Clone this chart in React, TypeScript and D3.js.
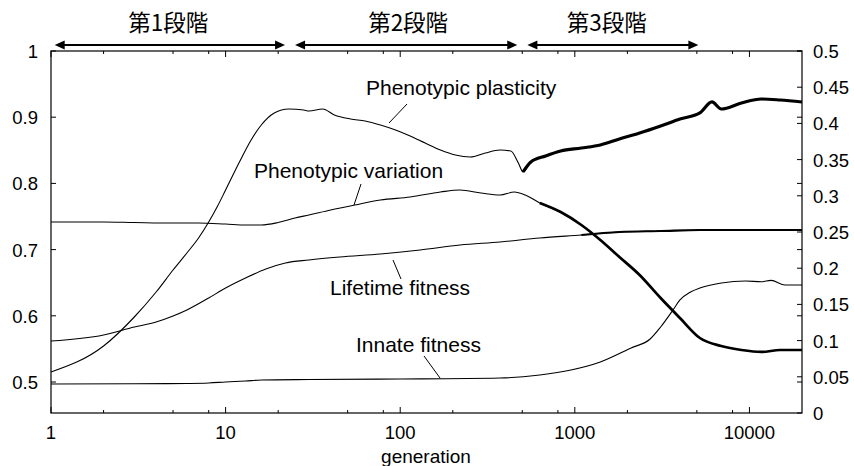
import React from "react";
import * as d3 from "d3";

// ---------- data ----------
const xMajorTicks = [1, 10, 100, 1000, 10000];
const xMinorTicks = [2, 5, 8, 20, 50, 80, 200, 500, 800, 2000, 5000, 8000];
const leftTicks = [0.5, 0.6, 0.7, 0.8, 0.9, 1];
const rightTicks = [0, 0.05, 0.1, 0.15, 0.2, 0.25, 0.3, 0.35, 0.4, 0.45, 0.5];

const stageNames = ["第1段階", "第2段階", "第3段階"];
const stageFrom = [1.05, 25, 535];
const stageTo = [21.9, 468, 5100];
const stageLabelAt = [4.7, 111, 1525];

// Phenotypic plasticity (right axis)
const plasticityGen = [1, 2, 3, 4, 5, 6, 7, 8, 9, 10, 12, 14, 16, 19, 23, 28, 30, 36, 42, 52, 63, 77, 94, 114, 139, 170, 207, 252, 307, 373, 430, 475, 505, 560, 680, 830, 1090, 1400, 1800, 2350, 3100, 4000, 5200, 6100, 6900, 9000, 11700, 15000, 20000];
const plasticityVal = [0.0566, 0.0925, 0.1326, 0.1671, 0.1975, 0.221, 0.2417, 0.2638, 0.2859, 0.308, 0.3467, 0.3771, 0.3978, 0.4144, 0.4199, 0.4185, 0.4171, 0.4199, 0.4116, 0.4061, 0.4033, 0.3978, 0.3909, 0.3826, 0.3729, 0.3633, 0.3564, 0.3536, 0.3591, 0.3633, 0.3619, 0.3453, 0.3329, 0.3467, 0.355, 0.3619, 0.366, 0.3702, 0.3785, 0.3867, 0.3964, 0.4061, 0.4144, 0.4296, 0.4199, 0.4282, 0.4337, 0.4323, 0.4296];

// Phenotypic variation (right axis)
const variationGen = [1, 2, 3, 5, 7, 10, 13, 16, 20, 25, 30, 40, 55, 77, 114, 170, 220, 290, 373, 450, 520, 630, 830, 1090, 1400, 1800, 2350, 3100, 4000, 5200, 6900, 9000, 11700, 15000, 20000];
const variationVal = [0.2638, 0.2638, 0.2631, 0.2624, 0.2624, 0.261, 0.2597, 0.2597, 0.2631, 0.2693, 0.2735, 0.2804, 0.2873, 0.2942, 0.2983, 0.3052, 0.308, 0.3039, 0.3011, 0.3052, 0.3011, 0.2901, 0.2776, 0.2597, 0.239, 0.2155, 0.1906, 0.1588, 0.1312, 0.1036, 0.0925, 0.087, 0.0843, 0.087, 0.087];

// Lifetime fitness (left axis)
const lifetimeGen = [1, 2, 3, 4, 5, 6, 8, 10, 13, 17, 22, 30, 45, 77, 130, 220, 373, 630, 1090, 1800, 3100, 5200, 20000];
const lifetimeVal = [0.5619, 0.571, 0.5831, 0.5906, 0.5997, 0.6088, 0.6269, 0.642, 0.6571, 0.6707, 0.6798, 0.6843, 0.6888, 0.6934, 0.6994, 0.7069, 0.7115, 0.7175, 0.7221, 0.7266, 0.7281, 0.7296, 0.7296];

// Innate fitness (left axis)
const innateGen = [1, 3, 6, 8, 10, 13, 16, 30, 100, 373, 630, 950, 1400, 2100, 2700, 3100, 3650, 4000, 4600, 5200, 6900, 9500, 11700, 13300, 16000, 20000];
const innateVal = [0.497, 0.4973, 0.4978, 0.4985, 0.5, 0.5015, 0.503, 0.5038, 0.5045, 0.506, 0.5106, 0.5181, 0.5302, 0.5514, 0.565, 0.5831, 0.6088, 0.6239, 0.636, 0.642, 0.6495, 0.6526, 0.6515, 0.6535, 0.6465, 0.6465];

// ---------- layout ----------
const W = 854;
const H = 466;
const L = 51, R = 802, T = 51, B = 413;
const FONT = "'Liberation Sans', Arial, Helvetica, sans-serif";
const CJK = "'Noto Sans CJK JP', 'Noto Sans CJK SC', sans-serif";

const x = d3.scaleLog().domain([1, 20000]).range([L, R]);
const yLeft = d3.scaleLinear().domain([0.5, 1]).range([382, T]);
const yRight = d3.scaleLinear().domain([0, 0.5]).range([B, T]);

type Series = { gen: number[]; val: number[]; y: d3.ScaleLinear<number, number>; noiseFrom: number; noiseWidth: number };
const series: Series[] = [
  { gen: plasticityGen, val: plasticityVal, y: yRight, noiseFrom: 505, noiseWidth: 3.2 },
  { gen: variationGen, val: variationVal, y: yRight, noiseFrom: 560, noiseWidth: 2.7 },
  { gen: lifetimeGen, val: lifetimeVal, y: yLeft, noiseFrom: 800, noiseWidth: 2.1 },
  { gen: innateGen, val: innateVal, y: yLeft, noiseFrom: 1e9, noiseWidth: 1.3 },
];

function pathFor(s: Series, from = 0) {
  const pts: [number, number][] = [];
  s.gen.forEach((g, i) => {
    if (g >= from) pts.push([g, s.val[i]]);
  });
  return d3
    .line<[number, number]>()
    .x((d) => x(d[0]))
    .y((d) => s.y(d[1]))
    .curve(d3.curveMonotoneX)(pts) || "";
}

function fmt(v: number) {
  return String(+v.toFixed(2));
}

export default function App() {
  const arrowY = 45;
  const head = (xt: number, dir: number) =>
    `M${xt},${arrowY} L${xt - dir * 10},${arrowY - 4.5} L${xt - dir * 10},${arrowY + 4.5} Z`;

  return (
    <svg width={W} height={H} style={{ display: "block", position: "absolute", left: 0, top: 0 }} fontFamily={FONT}>
      <rect width={W} height={H} fill="#fff" />

      {/* stages */}
      {stageNames.map((name, i) => {
        const a = x(stageFrom[i]);
        const b = x(stageTo[i]);
        return (
          <g key={name}>
            <line x1={a + 6} x2={b - 6} y1={arrowY} y2={arrowY} stroke="#000" strokeWidth={1.8} />
            <path d={head(a, -1)} fill="#000" />
            <path d={head(b, 1)} fill="#000" />
            <text x={x(stageLabelAt[i])} y={31} textAnchor="middle" fontFamily={CJK} fontSize={22.5} fill="#000">
              {name}
            </text>
          </g>
        );
      })}

      {/* frame */}
      <rect x={L} y={T} width={R - L} height={B - T} fill="none" stroke="#000" strokeWidth={1.2} />

      {/* x ticks */}
      {xMajorTicks.map((t) => (
        <g key={"M" + t}>
          <line x1={x(t)} x2={x(t)} y1={B} y2={B - 6} stroke="#000" />
          <line x1={x(t)} x2={x(t)} y1={T} y2={T + 6} stroke="#000" />
          <text x={x(t)} y={439} textAnchor="middle" fontSize={18.5}>
            {t}
          </text>
        </g>
      ))}
      {xMinorTicks.map((t) => (
        <g key={"m" + t}>
          <line x1={x(t)} x2={x(t)} y1={B} y2={B - 3} stroke="#000" />
          <line x1={x(t)} x2={x(t)} y1={T} y2={T + 3} stroke="#000" />
        </g>
      ))}
      <text x={426} y={463} textAnchor="middle" fontSize={19}>
        generation
      </text>

      {/* left ticks */}
      {leftTicks.map((t) => (
        <g key={"l" + t}>
          <line x1={L} x2={L + 5} y1={yLeft(t)} y2={yLeft(t)} stroke="#000" />
          <line x1={R} x2={R - 5} y1={yLeft(t)} y2={yLeft(t)} stroke="#000" />
          <text x={38} y={yLeft(t) + 7} textAnchor="end" fontSize={18.5}>
            {fmt(t)}
          </text>
        </g>
      ))}
      {/* right ticks */}
      {rightTicks.map((t) => (
        <g key={"r" + t}>
          <line x1={R} x2={R - 5} y1={yRight(t)} y2={yRight(t)} stroke="#000" />
          <text x={813} y={yRight(t) + 7} textAnchor="start" fontSize={18.5}>
            {fmt(t)}
          </text>
        </g>
      ))}

      {/* series */}
      {series.map((s, i) => (
        <g key={"s" + i}>
          <path d={pathFor(s)} fill="none" stroke="#000" strokeWidth={1.1} />
          {s.noiseFrom < 1e8 && (
            <path d={pathFor(s, s.noiseFrom)} fill="none" stroke="#000" strokeWidth={s.noiseWidth} strokeLinejoin="round" />
          )}
        </g>
      ))}

      {/* labels */}
      <text x={366} y={95} fontSize={21}>Phenotypic plasticity</text>
      <line x1={407} y1={104} x2={389} y2={123} stroke="#000" />

      <text x={254} y={178} fontSize={21}>Phenotypic variation</text>
      <line x1={361} y1={184} x2={354} y2={205} stroke="#000" />

      <text x={330} y={295} fontSize={21}>Lifetime fitness</text>
      <line x1={393} y1={260} x2={401} y2={279} stroke="#000" />

      <text x={356} y={352} fontSize={21}>Innate fitness</text>
      <line x1={424} y1={356} x2={440} y2={378} stroke="#000" />
    </svg>
  );
}
